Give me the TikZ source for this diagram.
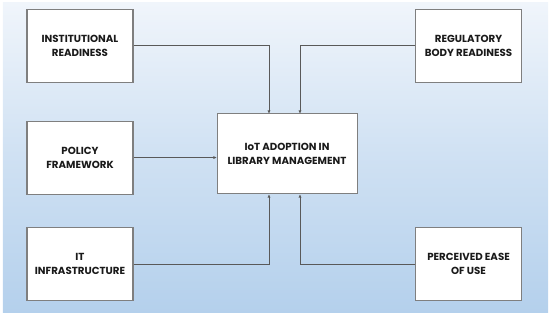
\documentclass[tikz,border=0pt]{standalone}
\usepackage{fontspec}
\setmainfont{Poppins}
\usepackage{tikz}
\usetikzlibrary{arrows.meta, positioning, calc}
\definecolor{bgtop}{HTML}{F0F5FB}
\definecolor{bgbottom}{HTML}{B4D0EC}
\definecolor{boxline}{HTML}{7F7F7F}
\definecolor{linkline}{HTML}{595959}
\definecolor{labeltext}{HTML}{1A1A1A}
\tikzset{
  factorbox/.style={draw=boxline, fill=white, line width=1pt,
                    minimum width=3.71cm, minimum height=2.555cm,
                    align=center, text=labeltext, inner sep=2pt,
                    font=\fontsize{10.2}{14}\selectfont\bfseries},
  mainbox/.style={factorbox, minimum width=4.9cm, minimum height=2.8cm},
  arr/.style={-{Triangle[length=3pt,width=2.6pt]}, line width=0.6pt, linkline},
}

\begin{document}
\begin{tikzpicture}

  %% ── Canvas ──
  \useasboundingbox (0,0) rectangle (19.25,11.095);
  \shade[top color=bgtop, bottom color=bgbottom, middle color=bgbottom!55!bgtop]
    (0.105,0.14) rectangle (19.18,10.99);

  %% ── Factors ──
  \node[factorbox] (inst) at (2.8, 9.5)   {INSTITUTIONAL\\READINESS};
  \node[factorbox] (pol)  at (2.8, 5.58)  {POLICY\\FRAMEWORK};
  \node[factorbox] (infra) at (2.8, 1.855) {IT\\INFRASTRUCTURE};
  \node[factorbox] (reg)  at (16.4, 9.5)  {REGULATORY\\BODY READINESS};
  \node[factorbox] (ease) at (16.4, 1.855) {PERCEIVED EASE\\OF USE};

  %% ── Outcome ──
  \node[mainbox] (iot) at (10.045, 5.705) {IoT ADOPTION IN\\LIBRARY MANAGEMENT};

  %% ── Links ──
  \draw[arr] (inst.east)  -| ([xshift=-0.63cm]iot.north);
  \draw[arr] (reg.west)   -| ([xshift=0.455cm]iot.north);
  \draw[arr] (pol.east)   -- (pol.east -| iot.west);
  \draw[arr] (infra.east) -| ([xshift=-0.63cm]iot.south);
  \draw[arr] (ease.west)  -| ([xshift=0.455cm]iot.south);

\end{tikzpicture}
\end{document}
